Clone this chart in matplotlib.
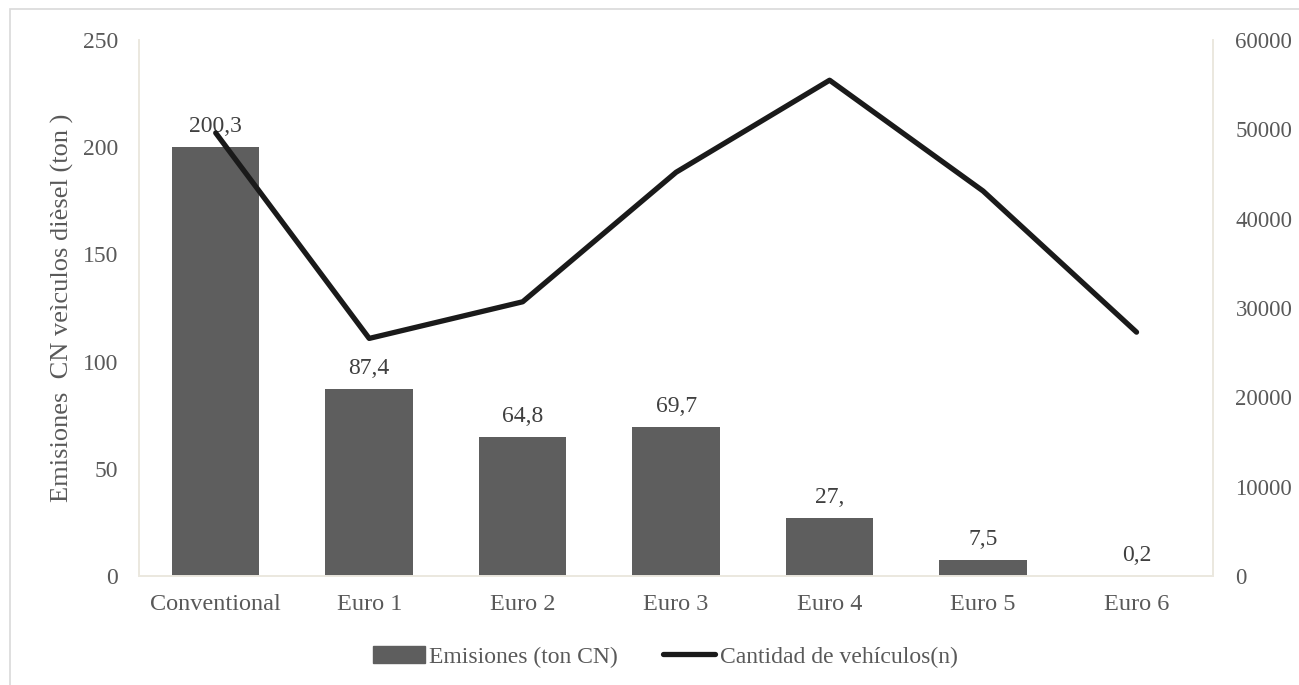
import matplotlib.pyplot as plt
import numpy as np
from matplotlib.patches import Rectangle
from matplotlib.lines import Line2D

plt.rcParams['font.family'] = ['Liberation Serif', 'DejaVu Serif']

categories = ["Conventional", "Euro 1", "Euro 2", "Euro 3", "Euro 4", "Euro 5", "Euro 6"]
emisiones = [200.3, 87.4, 64.8, 69.7, 27.0, 7.5, 0.2]
emisiones_labels = ["200,3", "87,4", "64,8", "69,7", "27,", "7,5", "0,2"]
vehiculos = [49600, 26600, 30700, 45200, 55500, 43100, 27300]

text_color = "#595959"
bar_color = "#5e5e5e"
spine_color = "#ebe8df"

fig = plt.figure(figsize=(12.99, 6.85), dpi=100)
ax = fig.add_axes([0.107, 0.159, 0.827, 0.7826])
ax2 = ax.twinx()

x = np.arange(len(categories))
bars = ax.bar(x, emisiones, width=0.57, color=bar_color, zorder=2)
ax.set_xlim(-0.5, len(categories) - 0.5)
ax.set_ylim(0, 250)
ax.set_yticks(np.arange(0, 251, 50))
ax.set_xticks(x)
ax.set_xticklabels(categories, fontsize=17.5)

# value labels above each bar
for rect, lab in zip(bars, emisiones_labels):
    ax.annotate(lab, (rect.get_x() + rect.get_width() / 2, rect.get_height()),
                xytext=(0, 7), textcoords="offset points", ha="center", va="bottom",
                fontsize=17, color="#404040", zorder=3)

ax2.plot(x, vehiculos, color="#1a1a1a", lw=3.8, solid_capstyle="round",
         solid_joinstyle="round", zorder=4)
ax2.set_ylim(0, 60000)
ax2.set_yticks(np.arange(0, 60001, 10000))

ax.set_ylabel("Emisiones  CN veìculos dièsel (ton )", fontsize=19, color=text_color, labelpad=6)

for a in (ax, ax2):
    a.tick_params(length=0, labelsize=17, labelcolor=text_color)
    a.spines["top"].set_visible(False)
    for s in ("left", "right", "bottom"):
        a.spines[s].set_color(spine_color)
        a.spines[s].set_linewidth(1.2)
ax.tick_params(axis="x", labelsize=17.5, pad=13)
ax.tick_params(axis="y", pad=15)
ax2.tick_params(axis="y", labelsize=16.5, pad=16)

handles = [Rectangle((0, 0), 1, 1, color=bar_color),
           Line2D([0], [0], color="#1a1a1a", lw=3.8, solid_capstyle="round")]
fig.legend(handles, ["Emisiones (ton CN)", "Cantidad de vehículos(n)"],
           loc="center", bbox_to_anchor=(0.512, 0.041), ncol=2, frameon=False,
           fontsize=17, labelcolor=text_color, handlelength=2.2, handletextpad=0.2,
           columnspacing=1.9)

# chart area border, running off the right and bottom edges
fig.patches.append(Rectangle((10 / 1299, -0.1), 1.2, 1 - 9 / 685 + 0.1,
                             transform=fig.transFigure, fill=False,
                             edgecolor="#d9d9d9", lw=1.2))

fig.savefig("out.png", dpi=100)
